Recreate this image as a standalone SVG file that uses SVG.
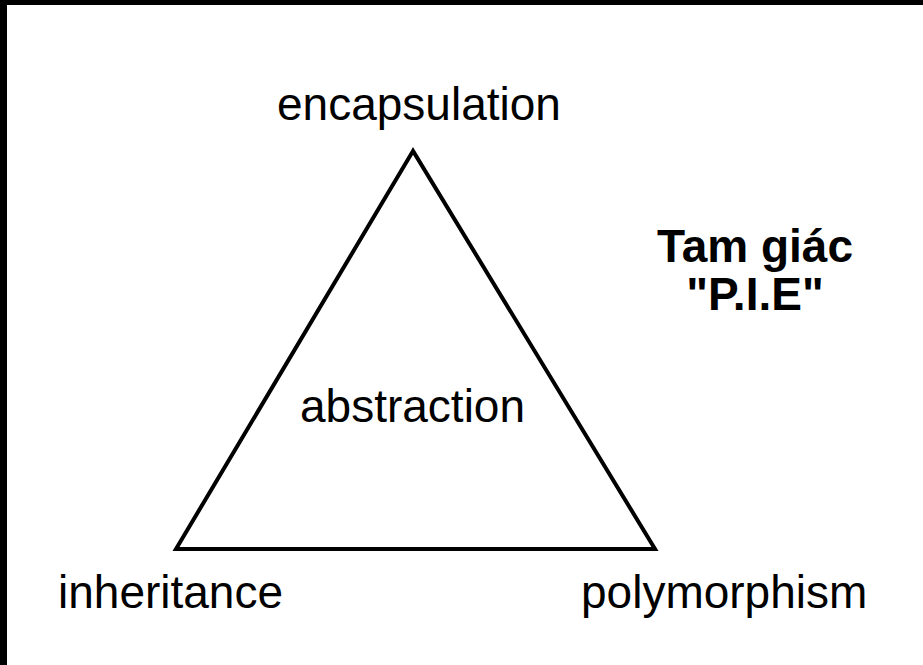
<svg xmlns="http://www.w3.org/2000/svg" width="923" height="665" viewBox="0 0 923 665">
<style>
.t{font-family:"Liberation Sans",Arial,sans-serif;font-size:46px;fill:#000}
.b{font-weight:bold;text-anchor:middle}
.edge{fill:none;stroke:#000;stroke-width:4;stroke-linejoin:miter}
</style>
<rect x="0" y="0" width="923" height="665" fill="#fff"/>
<rect x="0" y="0" width="923" height="5" fill="#000"/>
<rect x="0" y="0" width="7" height="665" fill="#000"/>
<g id="connectors">
<path class="edge" d="M413,151 L176,549 L655,549 Z"/>
</g>
<g id="encapsulation"><text class="t" x="277" y="120">encapsulation</text></g>
<g id="abstraction"><text class="t" x="300" y="422">abstraction</text></g>
<g id="inheritance"><text class="t" x="58" y="608">inheritance</text></g>
<g id="polymorphism"><text class="t" x="581" y="608">polymorphism</text></g>
<g id="title"><text class="t b" x="755" y="262">Tam giác</text><text class="t b" x="755" y="310">"P.I.E"</text></g>
</svg>
